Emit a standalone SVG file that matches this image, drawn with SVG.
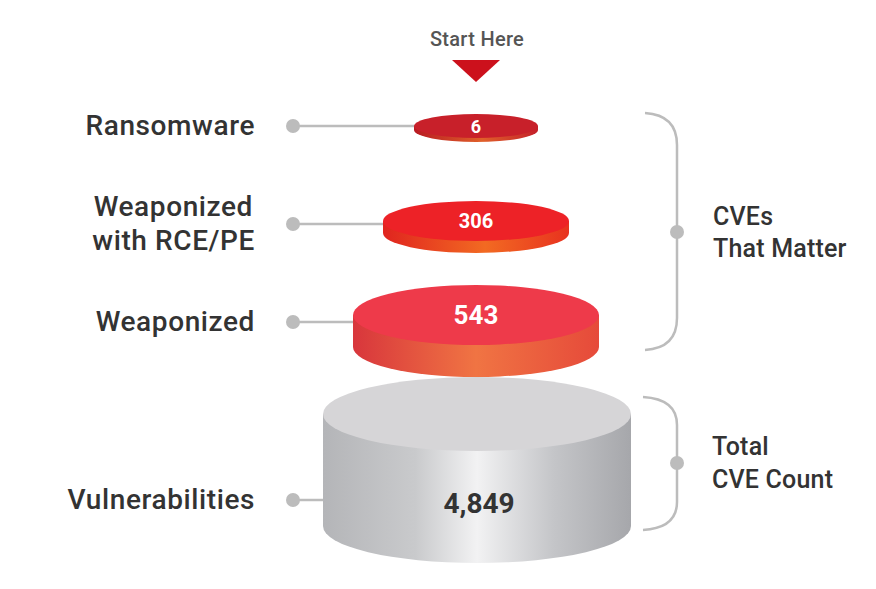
<svg xmlns="http://www.w3.org/2000/svg" width="876" height="589" viewBox="0 0 876 589">
<defs>
<linearGradient id="gGray" x1="0" x2="1" y1="0" y2="0">
<stop offset="0" stop-color="#b4b5b8"/><stop offset="0.3" stop-color="#c9cacc"/><stop offset="0.5" stop-color="#f2f2f3"/><stop offset="0.75" stop-color="#c4c5c8"/><stop offset="1" stop-color="#a6a7ab"/>
</linearGradient>
<linearGradient id="gRed3" x1="0" x2="1" y1="0" y2="0">
<stop offset="0" stop-color="#d8363c"/><stop offset="0.5" stop-color="#f07443"/><stop offset="1" stop-color="#e64a3a"/>
</linearGradient>
<linearGradient id="gRed2" x1="0" x2="1" y1="0" y2="0">
<stop offset="0" stop-color="#e0241f"/><stop offset="0.55" stop-color="#f26a22"/><stop offset="1" stop-color="#e8321f"/>
</linearGradient>
<linearGradient id="gRed1" x1="0" x2="1" y1="0" y2="0">
<stop offset="0" stop-color="#b81a22"/><stop offset="0.55" stop-color="#e0602a"/><stop offset="1" stop-color="#c4202a"/>
</linearGradient>
</defs>
<style>
.lbl{font-family:Roboto,"Liberation Sans",sans-serif;font-size:28px;font-weight:500;fill:#333;letter-spacing:0.6px;}
.lblR{font-size:25px;letter-spacing:0.2px;}
.lblL{text-anchor:end;}
.num{font-family:Roboto,"Liberation Sans",sans-serif;font-weight:700;fill:#fff;text-anchor:middle;}
.conn{stroke:#bcbcbc;stroke-width:2.5;fill:none;}
.dot{fill:#bcbcbc;}
</style>
<rect width="876" height="589" fill="#fff"/>

<g id="start">
<text x="477" y="46" font-family="Roboto,'Liberation Sans',sans-serif" font-size="20" font-weight="500" fill="#555" text-anchor="middle" letter-spacing="0.3">Start Here</text>
<polygon points="452,60 500,60 476,82" fill="#cc111c"/>
</g>

<g id="connectors">
<line class="conn" x1="293" y1="126" x2="416" y2="126"/>
<circle class="dot" cx="293" cy="126" r="7"/>
<line class="conn" x1="293" y1="224" x2="385" y2="224"/>
<circle class="dot" cx="293" cy="224" r="7"/>
<line class="conn" x1="293" y1="322" x2="354" y2="322"/>
<circle class="dot" cx="293" cy="322" r="7"/>
<line class="conn" x1="293" y1="500" x2="325" y2="500"/>
<circle class="dot" cx="293" cy="500" r="7"/>
<path class="conn" d="M645,113 Q677,115 677,145 L677,318 Q677,348 645,350"/>
<circle class="dot" cx="677" cy="232" r="7"/>
<path class="conn" d="M643,397 Q677,399 677,425 L677,502 Q677,528 643,530"/>
<circle class="dot" cx="677" cy="463" r="7"/>
</g>

<g id="vulnerabilities">
<path d="M323,414 L323,526 A154,37 0 0 0 631,526 L631,414 Z" fill="url(#gGray)"/>
<ellipse cx="477" cy="414" rx="154" ry="37" fill="#d6d5d7"/>
<text class="num" x="479" y="513" font-size="28" style="fill:#333">4,849</text>
<text class="lbl lblL" x="255" y="509">Vulnerabilities</text>
</g>

<g id="weaponized">
<path d="M353,315 L353,347 A123,30 0 0 0 599,347 L599,315 Z" fill="url(#gRed3)"/>
<ellipse cx="476" cy="315" rx="123" ry="30" fill="#ee3a4a"/>
<text class="num" x="476" y="324" font-size="26">543</text>
<text class="lbl lblL" x="255" y="331">Weaponized</text>
</g>

<g id="weaponized-rce">
<path d="M383,221 L383,233 A93,20 0 0 0 569,233 L569,221 Z" fill="url(#gRed2)"/>
<ellipse cx="476" cy="221" rx="93" ry="20" fill="#ed2227"/>
<text class="num" x="476" y="228" font-size="20">306</text>
<text class="lbl lblL" x="253" y="216">Weaponized</text>
<text class="lbl lblL" x="255" y="250">with RCE/PE</text>
</g>

<g id="ransomware">
<path d="M414,126 L414,130 A62,12 0 0 0 538,130 L538,126 Z" fill="url(#gRed1)"/>
<ellipse cx="476" cy="126" rx="62" ry="12" fill="#c8202a"/>
<text class="num" x="476" y="133" font-size="18">6</text>
<text class="lbl lblL" x="255" y="135">Ransomware</text>
</g>

<g id="cves-that-matter">
<text class="lbl lblR" x="713" y="225">CVEs</text>
<text class="lbl lblR" x="713" y="257">That Matter</text>
</g>

<g id="total-cve-count">
<text class="lbl lblR" x="712" y="455">Total</text>
<text class="lbl lblR" x="712" y="488">CVE Count</text>
</g>
</svg>
